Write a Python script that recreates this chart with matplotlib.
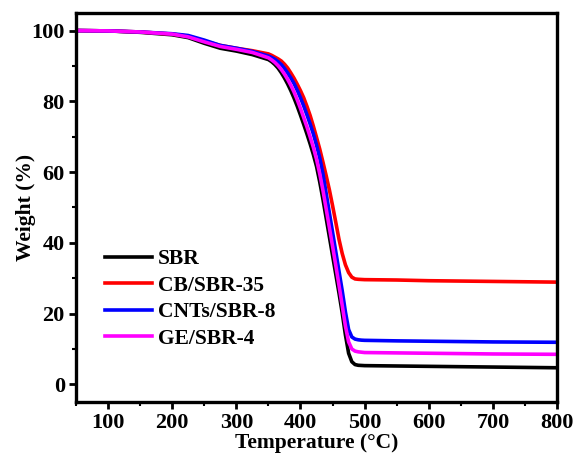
import numpy as np
import matplotlib.pyplot as plt
from matplotlib.ticker import MultipleLocator

plt.rcParams['font.family'] = ['Liberation Serif', 'DejaVu Serif']
plt.rcParams['font.weight'] = 'bold'

# temperature grid (C)
temp = [50, 100, 150, 200, 225, 250, 275, 300, 325,
        350, 355, 360, 365, 370, 375, 380, 385, 390, 395,
        400, 405, 410, 415, 420, 425, 430, 435, 440, 445,
        450, 455, 460, 465, 470, 475, 480, 485, 490, 495,
        500, 550, 600, 650, 700, 750, 800]

# residual weight (%)
sbr = [100, 99.9, 99.5, 98.8, 98.0, 96.4, 95.0, 94.2, 93.2,
       91.8, 91.2, 90.4, 89.4, 88.1, 86.6, 84.9, 83.0, 80.9, 78.6,
       76.1, 73.5, 70.8, 68.0, 65.0, 61.6, 57.2, 52.3, 47.0, 41.7,
       36.4, 31.1, 25.8, 20.2, 14.0, 8.8, 6.4, 5.6, 5.4, 5.35,
       5.3, 5.2, 5.1, 5.0, 4.9, 4.8, 4.7]
cb_sbr = [100, 99.9, 99.6, 99.0, 98.4, 97.0, 95.8, 95.0, 94.3,
          93.4, 93.0, 92.5, 92.0, 91.4, 90.5, 89.4, 88.0, 86.5, 84.8,
          83.0, 81.0, 78.6, 76.0, 73.0, 69.8, 66.5, 62.8, 59.0, 55.0,
          50.5, 45.8, 41.0, 37.0, 33.8, 31.6, 30.3, 29.8, 29.7, 29.65,
          29.6, 29.5, 29.3, 29.2, 29.1, 29.0, 28.9]
cnt_sbr = [100, 99.9, 99.6, 99.1, 98.6, 97.3, 95.8, 95.0, 94.1,
           92.8, 92.4, 91.9, 91.2, 90.4, 89.3, 88.0, 86.6, 85.0, 83.1,
           81.0, 78.7, 76.2, 73.6, 70.8, 67.6, 64.0, 59.5, 54.0, 48.5,
           43.0, 37.5, 32.0, 26.5, 20.5, 15.5, 13.4, 12.8, 12.6, 12.5,
           12.45, 12.3, 12.2, 12.1, 12.0, 11.95, 11.9]
ge_sbr = [100, 99.9, 99.6, 99.0, 98.2, 96.8, 95.5, 94.7, 93.8,
          92.3, 91.7, 91.0, 90.1, 89.0, 87.7, 86.2, 84.5, 82.6, 80.4,
          78.0, 75.4, 72.8, 70.0, 67.0, 63.6, 59.5, 54.8, 49.6, 44.3,
          39.0, 33.6, 28.0, 22.3, 16.5, 12.0, 10.0, 9.4, 9.2, 9.1,
          9.0, 8.9, 8.8, 8.7, 8.6, 8.55, 8.5]

labels = ['SBR', 'CB/SBR-35', 'CNTs/SBR-8', 'GE/SBR-4']
colors = ['black', 'red', 'blue', 'magenta']

fig, ax = plt.subplots(figsize=(5.75, 4.59), dpi=100)
fig.subplots_adjust(left=0.132, right=0.969, bottom=0.124, top=0.972)

for y, lab, c in zip([sbr, cb_sbr, cnt_sbr, ge_sbr], labels, colors):
    ax.plot(temp, y, color=c, lw=2.6, label=lab, solid_joinstyle='round')

ax.set_xlim(50, 800)
ax.set_ylim(-5, 105)
ax.xaxis.set_major_locator(MultipleLocator(100))
ax.xaxis.set_minor_locator(MultipleLocator(50))
ax.yaxis.set_major_locator(MultipleLocator(20))
ax.yaxis.set_minor_locator(MultipleLocator(10))

ax.tick_params(which='major', direction='out', length=5, width=2, labelsize=16, pad=3)
ax.tick_params(which='minor', direction='out', length=3, width=1.5)
for s in ax.spines.values():
    s.set_linewidth(2.4)

ax.set_xlabel('Temperature (°C)', fontsize=15.5, fontweight='bold', labelpad=0)
ax.set_ylabel('Weight (%)', fontsize=15.5, fontweight='bold', labelpad=-3)

ax.legend(loc='center left', bbox_to_anchor=(0.02, 0.265), frameon=False,
          fontsize=15.5, handlelength=2.2, labelspacing=0.3, handletextpad=0.25)

plt.savefig('out.png', dpi=100)
